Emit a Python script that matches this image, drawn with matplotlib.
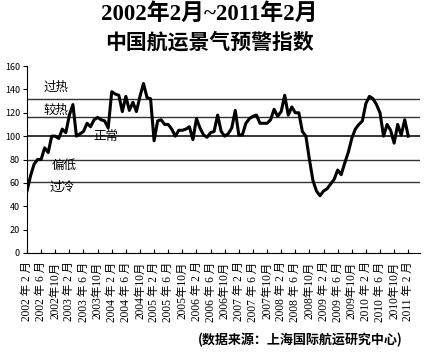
import numpy as np
import matplotlib
matplotlib.use("Agg")
import matplotlib.pyplot as plt

plt.rcParams['font.family'] = ['Noto Sans CJK SC', 'DejaVu Sans']
serif = ['Liberation Serif', 'Noto Sans CJK SC']

# monthly index, 2002-02 .. 2011-02 (109 months)
index_values = [
    53, 66, 76, 80, 80, 90, 86, 100, 100, 98,
    106, 103, 118, 127, 100, 102, 104, 111, 108, 114,
    116, 114, 113, 107, 138, 136, 135, 121, 134, 122,
    129, 121, 134, 145, 133, 132, 96, 113, 114, 110,
    110, 106, 100, 105, 105, 106, 108, 97, 115, 107,
    101, 99, 103, 104, 118, 104, 100, 102, 107, 122,
    101, 101, 111, 115, 117, 118, 111, 111, 111, 114,
    123, 117, 121, 135, 118, 125, 120, 120, 104, 100,
    80, 62, 53, 49, 53, 55, 59, 63, 71, 67,
    77, 86, 98, 106, 110, 113, 128, 134, 132, 127,
    120, 100, 110, 105, 94, 110, 101, 114, 100,
]

# warning zone boundaries
zone_levels = [132, 116, 100, 80, 61]
zone_names = ['过热', '较热', '正常', '偏低', '过冷']
zone_label_x = [8.2, 8.2, 22.4, 10.5, 9.9]
zone_label_y = [142, 122, 100, 75, 56]

tick_labels = []
for year in range(2002, 2012):
    for month in [2, 6, 10]:
        if year == 2011 and month > 2:
            break
        if month < 10:
            tick_labels.append(f"{year} 年 {month} 月")
        else:
            tick_labels.append(f"{year}年{month}月")

months = np.arange(len(index_values))

fig = plt.figure(figsize=(4.28, 3.53), dpi=100)
ax = fig.add_axes([0.0631, 0.2833, 0.918, 0.5297])

for k, lvl in enumerate(zone_levels):
    ax.axhline(lvl, color='#333333', linewidth=1.4 if k == 2 else 1.0, zorder=1)

ax.plot(months, index_values, color='black', linewidth=2.2, zorder=3)

for name, x, y in zip(zone_names, zone_label_x, zone_label_y):
    ax.text(x, y, name, ha='center', va='center', fontsize=9, zorder=4)

ax.set_xlim(0, 111.3)
ax.set_ylim(0, 160)
ax.set_yticks(np.arange(0, 161, 20))
ax.set_xticks(np.arange(0, len(index_values), 4))
ax.set_xticklabels(tick_labels, rotation=90, fontsize=8.3, family=serif)
ax.tick_params(axis='x', direction='in', length=3, pad=6)
ax.tick_params(axis='y', direction='out', length=3, labelsize=6.5, pad=2)
for side in ['top', 'right']:
    ax.spines[side].set_visible(False)

fig.text(0.49, 0.96, '2002年2月~2011年2月', ha='center', va='center',
         fontsize=16.5, fontweight='bold', family=serif)
fig.text(0.49, 0.88, '中国航运景气预警指数', ha='center', va='center',
         fontsize=15, fontweight='bold')
fig.text(0.94, 0.037, '(数据来源：上海国际航运研究中心)', ha='right', va='center',
         fontsize=9.4, fontweight='bold')

fig.savefig('out.png', dpi=100)
